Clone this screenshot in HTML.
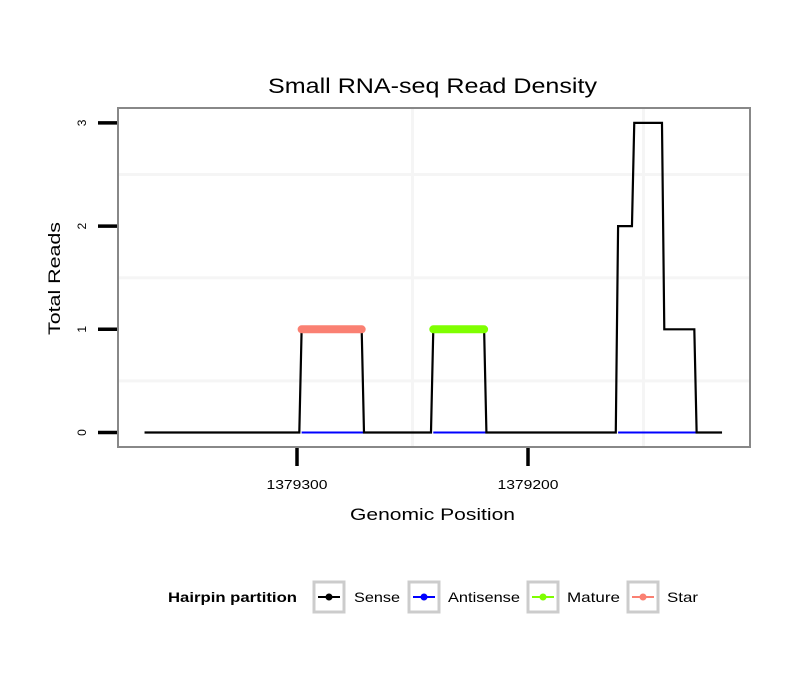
<!DOCTYPE html>
<html><head><meta charset="utf-8"><style>
body{margin:0;background:#fff;}
svg text{font-family:"Liberation Sans",sans-serif;}
</style></head><body>
<svg width="810" height="690" viewBox="0 0 810 690" xmlns="http://www.w3.org/2000/svg">
<rect width="810" height="690" fill="#fff"/>
<text x="268" y="93" font-size="21" textLength="329" lengthAdjust="spacingAndGlyphs">Small RNA-seq Read Density</text>
<g id="grid"></g>
<g id="marks"></g>
<rect x="118" y="108" width="632" height="339" fill="none" stroke="#888" stroke-width="2"/>
<g id="axes"></g>
<text x="350" y="520" font-size="17" textLength="165" lengthAdjust="spacingAndGlyphs">Genomic Position</text>
<text transform="translate(60,335) rotate(-90)" font-size="17" textLength="113" lengthAdjust="spacingAndGlyphs">Total Reads</text>
<g>
<text x="168" y="602" font-size="14" font-weight="bold" textLength="129" lengthAdjust="spacingAndGlyphs">Hairpin partition</text>
<g><rect x="314" y="582" width="30" height="30" fill="#fff" stroke="#ccc" stroke-width="3"/><line x1="318" y1="597" x2="340" y2="597" stroke="#000" stroke-width="2"/><circle cx="329" cy="597" r="3.5" fill="#000"/><text x="354" y="602" font-size="14" textLength="46" lengthAdjust="spacingAndGlyphs">Sense</text></g>
<g><rect x="409" y="582" width="30" height="30" fill="#fff" stroke="#ccc" stroke-width="3"/><line x1="413" y1="597" x2="435" y2="597" stroke="#00f" stroke-width="2"/><circle cx="424" cy="597" r="3.5" fill="#00f"/><text x="448" y="602" font-size="14" textLength="72" lengthAdjust="spacingAndGlyphs">Antisense</text></g>
<g><rect x="528" y="582" width="30" height="30" fill="#fff" stroke="#ccc" stroke-width="3"/><line x1="532" y1="597" x2="554" y2="597" stroke="#7fff00" stroke-width="2"/><circle cx="543" cy="597" r="3.5" fill="#7fff00"/><text x="567" y="602" font-size="14" textLength="53" lengthAdjust="spacingAndGlyphs">Mature</text></g>
<g><rect x="628" y="582" width="30" height="30" fill="#fff" stroke="#ccc" stroke-width="3"/><line x1="632" y1="597" x2="654" y2="597" stroke="#fa8072" stroke-width="2"/><circle cx="643" cy="597" r="3.5" fill="#fa8072"/><text x="667" y="602" font-size="14" textLength="31" lengthAdjust="spacingAndGlyphs">Star</text></g>
</g>
</svg>
<script>
const senseX = [1379366,1379299,1379298,1379272,1379271,1379242,1379241,1379219,1379218,1379162,1379161,1379155,1379154,1379142,1379141,1379128,1379127,1379116];
const senseY = [0,0,1,1,0,0,1,1,0,0,2,2,3,3,1,1,0,0];
const antisenseStart = [1379298,1379241,1379161];
const antisenseEnd = [1379271,1379218,1379127];
const antisenseY = [0,0,0];
const starStart = [1379298];
const starEnd = [1379272];
const starY = [1];
const matureStart = [1379241];
const matureEnd = [1379219];
const matureY = [1];
const xTicks = [1379300,1379200];
const xGrid = [1379250,1379150];
const yTicks = [0,1,2,3];
const yGrid = [0.5,1.5,2.5];

const NS="http://www.w3.org/2000/svg";
const X = p => 297 + (1379300 - p) * 2.31;
const Y = v => 432.5 - v * 103.2;
function mk(tag, attrs, parent){const e=document.createElementNS(NS,tag);for(const k in attrs)e.setAttribute(k,attrs[k]);parent.appendChild(e);return e;}
const grid=document.getElementById('grid'), marks=document.getElementById('marks'), axes=document.getElementById('axes');
yGrid.forEach(v=>{
  const l=mk('line',{x1:119,x2:749,y1:Y(v),y2:Y(v),stroke:'#f5f5f5','stroke-width':3},grid);
  
  
});
xGrid.forEach(p=>{
  const x=X(p);
  const l=mk('line',{x1:x,x2:x,y1:109,y2:446,stroke:'#f5f5f5','stroke-width':3},grid);
  
  
});
for(let i=0;i<antisenseStart.length;i++){
  const l=mk('line',{x1:X(antisenseStart[i]),x2:X(antisenseEnd[i]),y1:Y(antisenseY[i]),y2:Y(antisenseY[i]),stroke:'#00f','stroke-width':2},marks);
  
  
}
const pts=senseX.map((p,i)=>X(p)+','+Y(senseY[i])).join(' ');
const sl=mk('polyline',{points:pts,fill:'none',stroke:'#000','stroke-width':2.2},marks);


for(let i=0;i<starStart.length;i++){
  const l=mk('line',{x1:X(starStart[i]),x2:X(starEnd[i]),y1:Y(starY[i]),y2:Y(starY[i]),stroke:'#fa8072','stroke-width':8,'stroke-linecap':'round'},marks);
  
  
}
for(let i=0;i<matureStart.length;i++){
  const l=mk('line',{x1:X(matureStart[i]),x2:X(matureEnd[i]),y1:Y(matureY[i]),y2:Y(matureY[i]),stroke:'#7fff00','stroke-width':8,'stroke-linecap':'round'},marks);
  
  
}
yTicks.forEach(v=>{
  const t=mk('line',{x1:98,x2:117,y1:Y(v),y2:Y(v),stroke:'#000','stroke-width':3.5},axes);
  
  
  const tx=mk('text',{transform:`translate(86,${Y(v)}) rotate(-90)`,'font-size':12,'text-anchor':'middle'},axes);
  tx.textContent=v;
  
  
});
xTicks.forEach(p=>{
  const t=mk('line',{x1:X(p),x2:X(p),y1:448,y2:466,stroke:'#000','stroke-width':3.5},axes);
  
  
  const tx=mk('text',{x:X(p)-30.5,y:489,'font-size':13,textLength:61,lengthAdjust:'spacingAndGlyphs'},axes);
  tx.textContent=p;
  
  
});
</script>
</body></html>
